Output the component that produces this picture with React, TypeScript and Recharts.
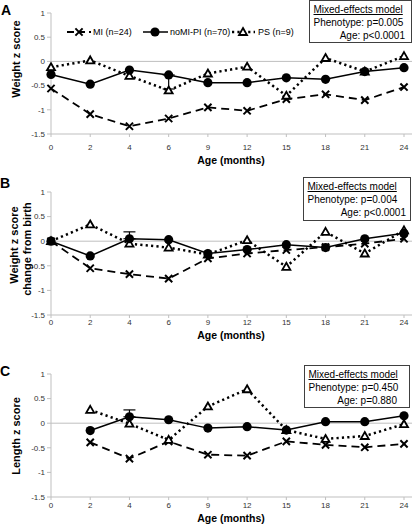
import React from "react";
import { LineChart, Line, XAxis, YAxis, ReferenceLine, ErrorBar } from "recharts";

const ages = ["0", "2", "4", "6", "9", "12", "15", "18", "21", "24"];
const yTicks = [-1.5, -1, -0.5, 0, 0.5, 1];

// A: weight z score
const weightMI = [-0.56, -1.09, -1.34, -1.18, -0.95, -1.02, -0.78, -0.68, -0.8, -0.53];
const weightNoMIPI = [-0.27, -0.47, -0.18, -0.28, -0.44, -0.44, -0.34, -0.37, -0.21, -0.13];
const weightPS = [-0.12, 0.02, -0.3, -0.6, -0.25, -0.11, -0.71, 0.07, -0.21, 0.11];
const weightErr = [null, null, null, [0.29, 0], null, null, null, null, null, null];

// B: weight z score change from birth
const changeMI = [0, -0.55, -0.67, -0.76, -0.35, -0.25, -0.18, -0.12, -0.05, 0.05];
const changeNoMIPI = [0, -0.3, 0.05, 0.03, -0.25, -0.17, -0.07, -0.13, 0.05, 0.16];
const changePS = [0, 0.34, -0.05, -0.13, -0.27, 0.02, -0.52, 0.19, -0.25, 0.22];
const changeErr = [null, null, [0, 0.14], null, null, null, null, null, null, null];

// C: length z score
const lengthMI = [null, -0.39, -0.72, -0.37, -0.64, -0.66, -0.37, -0.44, -0.49, -0.42];
const lengthNoMIPI = [null, -0.15, 0.13, 0.07, -0.1, -0.07, -0.14, 0.03, 0.03, 0.15];
const lengthPS = [null, 0.27, -0.01, -0.34, 0.34, 0.69, -0.14, -0.32, -0.26, -0.02];
const lengthErr = [null, null, [0, 0.14], null, null, null, null, null, null, null];

const FONT = "'Liberation Sans', Arial, sans-serif";
const GRAY = "#bfbfbf";

const buildRows = (mi: any[], pi: any[], ps: any[], err: any[]) =>
  ages.map((age, i) => ({ age, mi: mi[i], pi: pi[i], ps: ps[i], err: err[i] }));

const CrossDot = (props: any) => {
  const { cx, cy, key } = props;
  if (cx == null || cy == null) return <g key={key} />;
  const s = 3.6;
  return (
    <path
      key={key}
      d={`M${cx - s},${cy - s}L${cx + s},${cy + s}M${cx - s},${cy + s}L${cx + s},${cy - s}`}
      stroke="#000"
      strokeWidth={2}
    />
  );
};

const CircleDot = (props: any) => {
  const { cx, cy, key } = props;
  if (cx == null || cy == null) return <g key={key} />;
  return <circle key={key} cx={cx} cy={cy} r={4.6} fill="#000" />;
};

const TriangleDot = (props: any) => {
  const { cx, cy, key } = props;
  if (cx == null || cy == null) return <g key={key} />;
  return (
    <path
      key={key}
      d={`M${cx},${cy - 4}L${cx + 4},${cy + 3}L${cx - 4},${cy + 3}Z`}
      fill="#fff"
      stroke="#000"
      strokeWidth={1.8}
    />
  );
};

type PanelProps = {
  top: number;
  height: number;
  marginTop: number;
  axisHeight: number;
  tickMargin: number;
  rows: any[];
};

function Panel({ top, height, marginTop, axisHeight, tickMargin, rows }: PanelProps) {
  return (
    <div style={{ position: "absolute", left: 0, top }}>
      <LineChart width={415} height={height} data={rows} margin={{ top: marginTop, right: 3, bottom: 0, left: 0 }}>
        <XAxis
          dataKey="age"
          interval={0}
          padding={{ left: 0, right: 8 }}
          height={axisHeight}
          axisLine={{ stroke: GRAY }}
          tickLine={{ stroke: GRAY }}
          tickSize={3}
          tickMargin={tickMargin}
          tick={{ fontSize: 8, fill: "#333", fontFamily: FONT }}
        />
        <YAxis
          type="number"
          domain={[-1.5, 1]}
          ticks={yTicks}
          interval={0}
          width={51}
          axisLine={{ stroke: GRAY }}
          tickLine={{ stroke: GRAY }}
          tickSize={4}
          tickMargin={2}
          tick={{ fontSize: 8, fill: "#333", fontFamily: FONT }}
        />
        <ReferenceLine y={0} stroke={GRAY} strokeWidth={1} />
        <Line
          dataKey="mi"
          stroke="#000"
          strokeWidth={1.8}
          strokeDasharray="8 5"
          dot={CrossDot}
          activeDot={false}
          isAnimationActive={false}
        />
        <Line
          dataKey="ps"
          stroke="#000"
          strokeWidth={2.5}
          strokeDasharray="2.2 3.2"
          dot={TriangleDot}
          activeDot={false}
          isAnimationActive={false}
        />
        <Line dataKey="pi" stroke="#000" strokeWidth={1.5} dot={CircleDot} activeDot={false} isAnimationActive={false}>
          <ErrorBar dataKey="err" direction="y" width={6} stroke="#000" strokeWidth={1.2} />
        </Line>
      </LineChart>
    </div>
  );
}

function StatsBox({ x, y, w, h, lines, ageRight }: { x: number; y: number; w: number; h: number; lines: string[]; ageRight: number }) {
  return (
    <g fontFamily={FONT} fontSize={10} fill="#000">
      <rect x={x + 0.5} y={y + 0.5} width={w} height={h} fill="#fff" stroke="#404040" strokeWidth={1} />
      <text x={x + 4.5} y={y + 13} textDecoration="underline">
        {lines[0]}
      </text>
      <text x={x + 4.5} y={y + 26}>
        {lines[1]}
      </text>
      <text x={ageRight} y={y + 39} textAnchor="end">
        {lines[2]}
      </text>
    </g>
  );
}

export default function App() {
  return (
    <div style={{ position: "absolute", left: 0, top: 0, width: 415, height: 526, background: "#fff" }}>
      <Panel top={0} height={170} marginTop={13} axisHeight={36} tickMargin={7} rows={buildRows(weightMI, weightNoMIPI, weightPS, weightErr)} />
      <Panel top={170} height={175} marginTop={22} axisHeight={30} tickMargin={1.5} rows={buildRows(changeMI, changeNoMIPI, changePS, changeErr)} />
      <Panel top={350} height={176} marginTop={24} axisHeight={29} tickMargin={2.5} rows={buildRows(lengthMI, lengthNoMIPI, lengthPS, lengthErr)} />
      <svg width={415} height={526} style={{ position: "absolute", left: 0, top: 0, pointerEvents: "none" }}>
        <g fontFamily={FONT} fontWeight="bold" fill="#000">
          <text x={1} y={15} fontSize={14}>A</text>
          <text x={0} y={188} fontSize={14}>B</text>
          <text x={0} y={376} fontSize={14}>C</text>
          <text x={231} y={164} fontSize={10.5} textAnchor="middle">Age (months)</text>
          <text x={231} y={339} fontSize={10.5} textAnchor="middle">Age (months)</text>
          <text x={231} y={522} fontSize={10.5} textAnchor="middle">Age (months)</text>
          <text transform="translate(20,59) rotate(-90)" fontSize={11} textAnchor="middle">Weight z score</text>
          <text transform="translate(18,245) rotate(-90)" fontSize={11} textAnchor="middle">Weight z score</text>
          <text transform="translate(31,249) rotate(-90)" fontSize={11} textAnchor="middle">change from birth</text>
          <text transform="translate(20,436) rotate(-90)" fontSize={11} textAnchor="middle">Length z score</text>
        </g>
        <g fontFamily={FONT} fontSize={9} fill="#000">
          <line x1={67} y1={32} x2={91} y2={32} stroke="#000" strokeWidth={1.8} strokeDasharray="7 4" />
          <CrossDot cx={79} cy={32} key="l1" />
          <text x={93} y={35}>MI (n=24)</text>
          <line x1={143} y1={32} x2={168} y2={32} stroke="#000" strokeWidth={1.5} />
          <CircleDot cx={155} cy={32} key="l2" />
          <text x={170} y={35}>noMI-PI (n=70)</text>
          <line x1={232} y1={32} x2={255} y2={32} stroke="#000" strokeWidth={2.5} strokeDasharray="2.2 3.2" />
          <TriangleDot cx={243} cy={32} key="l3" />
          <text x={258} y={35}>PS (n=9)</text>
        </g>
        <StatsBox x={309} y={0} w={102} h={42} ageRight={405} lines={["Mixed-effects model", "Phenotype: p=0.005", "Age: p<0.0001"]} />
        <StatsBox x={303} y={177} w={107} h={43} ageRight={406} lines={["Mixed-effects model", "Phenotype: p=0.004", "Age: p<0.0001"]} />
        <StatsBox x={304} y={365} w={105} h={42} ageRight={397} lines={["Mixed-effects model", "Phenotype: p=0.450", "Age: p=0.880"]} />
      </svg>
    </div>
  );
}
